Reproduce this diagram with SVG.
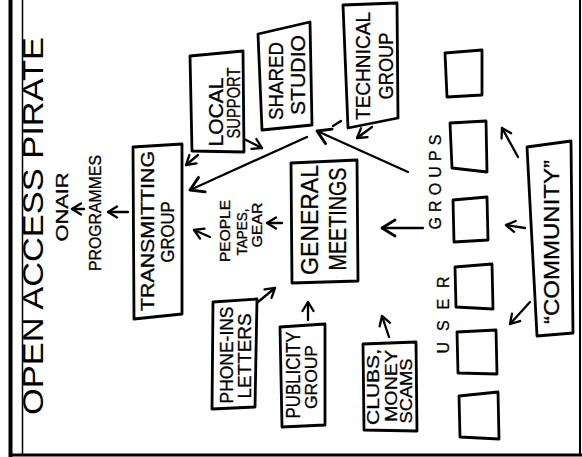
<svg xmlns="http://www.w3.org/2000/svg" width="582" height="457" viewBox="0 0 582 457">
<style>
.t{font-family:"Liberation Sans",Arial,sans-serif;fill:#000;text-anchor:middle;stroke:#000;stroke-width:0.3}
.tt{font-family:"Liberation Sans",Arial,sans-serif;fill:#000;text-anchor:middle}
.box{fill:none;stroke:#000;stroke-width:2.8;stroke-linejoin:round}
.ln{fill:none;stroke:#000;stroke-width:2.3;stroke-linecap:round}
.a{marker-end:url(#ah)}
.A{marker-end:url(#ahL)}
</style>
<defs>
<marker id="ah" markerUnits="userSpaceOnUse" markerWidth="14" markerHeight="14" refX="11" refY="7" orient="auto" viewBox="0 0 14 14">
<path d="M2,1.5 L11,7 L2,12.5" fill="none" stroke="#000" stroke-width="2.3" stroke-linecap="round" stroke-linejoin="round"/>
</marker>
<marker id="ahL" markerUnits="userSpaceOnUse" markerWidth="20" markerHeight="20" refX="16" refY="10" orient="auto" viewBox="0 0 20 20">
<path d="M3,2 L16,10 L3,18" fill="none" stroke="#000" stroke-width="2.8" stroke-linecap="round" stroke-linejoin="round"/>
</marker>
</defs>
<rect width="582" height="457" fill="#fff"/>
<g id="frame">
<line x1="10.5" y1="0" x2="10.5" y2="457" stroke="#000" stroke-width="4"/>
<line x1="22.5" y1="0" x2="22.5" y2="455" stroke="#000" stroke-width="1.5"/>
<line x1="10" y1="455" x2="582" y2="455" stroke="#000" stroke-width="3"/>
<line x1="580" y1="0" x2="580" y2="455" stroke="#000" stroke-width="2"/>
</g>
<g id="title">
<text class="tt" font-size="29" transform="translate(33,226) rotate(-90)" y="10.4" textLength="378" lengthAdjust="spacingAndGlyphs">OPEN ACCESS PIRATE</text>
</g>
<g id="onair"><text class="t" font-size="17" transform="translate(62,207) rotate(-90)" y="6" textLength="69" lengthAdjust="spacingAndGlyphs">ONAIR</text></g>
<g id="programmes"><text class="t" font-size="16" transform="translate(95,213) rotate(-90)" y="5.8" textLength="116" lengthAdjust="spacingAndGlyphs">PROGRAMMES</text></g>
<g id="transmitting">
<path class="box" d="M133,147 L182,144 L182,314 L134,319 Z"/>
<text class="t" font-size="18" transform="translate(147,231) rotate(-90)" y="6.5" textLength="160" lengthAdjust="spacingAndGlyphs">TRANSMITTING</text>
<text class="t" font-size="18" transform="translate(167,232) rotate(-90)" y="6.5" textLength="61" lengthAdjust="spacingAndGlyphs">GROUP</text>
</g>
<g id="local">
<path class="box" d="M190,56 L243,51 L244,152 L192,151 Z"/>
<text class="t" font-size="20" transform="translate(216,112) rotate(-90)" y="7.2" textLength="69" lengthAdjust="spacingAndGlyphs">LOCAL</text>
<text class="t" font-size="18" transform="translate(233,103) rotate(-90)" y="6.5" textLength="71" lengthAdjust="spacingAndGlyphs">SUPPORT</text>
</g>
<g id="shared">
<path class="box" d="M258,34 L310,22 L312,125 L262,130 Z"/>
<text class="t" font-size="21" transform="translate(275,81) rotate(-90)" y="7.6" textLength="78" lengthAdjust="spacingAndGlyphs">SHARED</text>
<text class="t" font-size="21" transform="translate(297,75) rotate(-90)" y="7.6" textLength="80" lengthAdjust="spacingAndGlyphs">STUDIO</text>
</g>
<g id="technical">
<path class="box" d="M343,5 L397,3 L398,118 L348,128 Z"/>
<text class="t" font-size="21" transform="translate(362,66) rotate(-90)" y="7.6" textLength="108" lengthAdjust="spacingAndGlyphs">TECHNICAL</text>
<text class="t" font-size="21" transform="translate(385,66) rotate(-90)" y="7.6" textLength="67" lengthAdjust="spacingAndGlyphs">GROUP</text>
</g>
<g id="general">
<path class="box" d="M291,163 L357,160 L358,281 L292,283 Z"/>
<text class="t" font-size="24" transform="translate(309,220) rotate(-90)" y="8.6" textLength="110" lengthAdjust="spacingAndGlyphs">GENERAL</text>
<text class="t" font-size="24" transform="translate(337,219) rotate(-90)" y="8.6" textLength="103" lengthAdjust="spacingAndGlyphs">MEETINGS</text>
</g>
<g id="resources">
<text class="t" font-size="14" transform="translate(225,231) rotate(-90)" y="5" textLength="62" lengthAdjust="spacingAndGlyphs">PEOPLE</text>
<text class="t" font-size="14" transform="translate(242,232) rotate(-90)" y="5" textLength="47" lengthAdjust="spacingAndGlyphs">TAPES,</text>
<text class="t" font-size="14" transform="translate(257,225) rotate(-90)" y="5" textLength="45" lengthAdjust="spacingAndGlyphs">GEAR</text>
</g>
<g id="phoneins">
<path class="box" d="M213,302 L257,299 L255,407 L212,409 Z"/>
<text class="t" font-size="18" transform="translate(226,355) rotate(-90)" y="6.5" textLength="97" lengthAdjust="spacingAndGlyphs">PHONE-INS</text>
<text class="t" font-size="18" transform="translate(244,356) rotate(-90)" y="6.5" textLength="85" lengthAdjust="spacingAndGlyphs">LETTERS</text>
</g>
<g id="publicity">
<path class="box" d="M280,327 L325,324 L325,425 L282,427 Z"/>
<text class="t" font-size="20" transform="translate(293,375) rotate(-90)" y="7.2" textLength="87" lengthAdjust="spacingAndGlyphs">PUBLICITY</text>
<text class="t" font-size="17" transform="translate(311,377) rotate(-90)" y="6" textLength="64" lengthAdjust="spacingAndGlyphs">GROUP</text>
</g>
<g id="clubs">
<path class="box" d="M363,344 L416,342 L417,431 L364,430 Z"/>
<text class="t" font-size="16" transform="translate(373,387) rotate(-90)" y="5.8" textLength="76" lengthAdjust="spacingAndGlyphs">CLUBS,</text>
<text class="t" font-size="16" transform="translate(391,386) rotate(-90)" y="5.8" textLength="72" lengthAdjust="spacingAndGlyphs">MONEY</text>
<text class="t" font-size="16" transform="translate(406,391) rotate(-90)" y="5.8" textLength="65" lengthAdjust="spacingAndGlyphs">SCAMS</text>
</g>
<g id="usergroups">
<text class="t" font-size="16" transform="translate(443,315) rotate(-90)" y="5.8" textLength="77" lengthAdjust="spacing">USER</text>
<text class="t" font-size="16" transform="translate(435,182) rotate(-90)" y="5.8" textLength="95" lengthAdjust="spacing">GROUPS</text>
<path class="box" d="M445,53 L482,50 L482,95 L447,97 Z"/>
<path class="box" d="M450,123 L486,121 L487,172 L452,168 Z"/>
<path class="box" d="M453,200 L487,197 L488,240 L454,242 Z"/>
<path class="box" d="M455,267 L492,264 L493,309 L456,307 Z"/>
<path class="box" d="M457,332 L496,330 L497,374 L458,373 Z"/>
<path class="box" d="M459,396 L498,392 L499,439 L460,437 Z"/>
</g>
<g id="community">
<path class="box" d="M527,147 L571,141 L573,333 L537,336 Z"/>
<text class="t" font-size="22" transform="translate(551,242) rotate(-90)" y="7.9" textLength="164" lengthAdjust="spacingAndGlyphs">“COMMUNITY”</text>
</g>
<g id="connectors">
<line class="ln a" x1="84" y1="209" x2="72" y2="209"/>
<line class="ln a" x1="128" y1="212" x2="108" y2="212"/>
<line class="ln A" x1="307" y1="137" x2="190" y2="190"/>
<line class="ln a" x1="198" y1="155" x2="186" y2="165"/>
<line class="ln a" x1="244" y1="139" x2="262" y2="148"/>
<line class="ln a" x1="372" y1="127" x2="357" y2="138"/>
<line class="ln" x1="333" y1="126" x2="341" y2="121"/>
<line class="ln A" x1="408" y1="172" x2="317" y2="131"/>
<line class="ln A" x1="423" y1="228" x2="382" y2="228"/>
<line class="ln a" x1="282" y1="223" x2="267" y2="223"/>
<line class="ln a" x1="210" y1="237" x2="194" y2="230"/>
<line class="ln a" x1="258" y1="302" x2="275" y2="288"/>
<line class="ln a" x1="308" y1="320" x2="308" y2="302"/>
<line class="ln a" x1="389" y1="337" x2="382" y2="316"/>
<line class="ln a" x1="518" y1="157" x2="502" y2="128"/>
<line class="ln a" x1="525" y1="228" x2="506" y2="225"/>
<line class="ln a" x1="530" y1="302" x2="510" y2="324"/>
</g>
</svg>
